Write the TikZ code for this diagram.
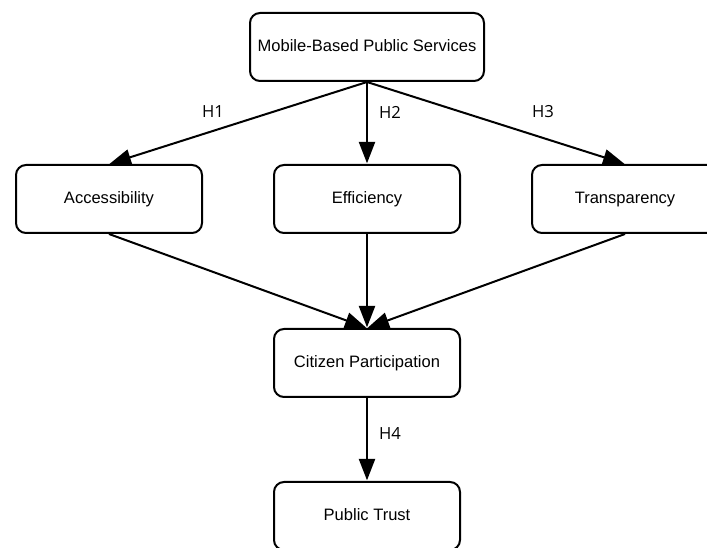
\documentclass[tikz,border=0pt]{standalone}
\usepackage{fontspec}
\setmainfont{Liberation Sans}
\newfontfamily\labelfont{Open Sans}
\usetikzlibrary{arrows.meta}
\tikzset{
  boxnode/.style={draw=black, line width=1.5pt, rounded corners=7.5pt, fill=white,
    minimum width=139.5pt, minimum height=51pt, align=center,
    text height=0.85em, text depth=0.1em,
    font=\fontsize{12.4}{14}\selectfont},
  hlabel/.style={inner sep=0.75pt, font=\labelfont\fontsize{12.5}{14}\selectfont},
  link/.style={line width=1.5pt, -{Triangle[length=16pt,width=12pt]}, shorten >=0.5pt}
}
\begin{document}
\begin{tikzpicture}[x=0.75pt,y=0.75pt,yscale=-1,xscale=1]
\useasboundingbox (0,0) rectangle (707,548);

% Boxes
\node [boxnode, minimum width=175.5pt] (mobile) at (367,47) {Mobile-Based Public Services};
\node [boxnode] (access) at (109,199) {Accessibility};
\node [boxnode] (effic) at (367,199) {Efficiency};
\node [boxnode] (transp) at (625,199) {Transparency};
\node [boxnode] (citizen) at (367,363) {Citizen Participation};
\node [boxnode] (trust) at (367,516) {Public Trust};

% Arrows
\draw [link] (mobile.south) -- (access.north);
\draw [link] (mobile.south) -- (effic.north);
\draw [link] (mobile.south) -- (transp.north);
\draw [link] (access.south) -- (citizen.north);
\draw [link] (effic.south) -- (citizen.north);
\draw [link] (transp.south) -- (citizen.north);
\draw [link] (citizen.south) -- (trust.north);

% Text Node
\node [hlabel] (h1) at (213,112) {H1};
% Text Node
\node [hlabel] (h2) at (390,112) {H2};
% Text Node
\node [hlabel] (h3) at (543,112) {H3};
% Text Node
\node [hlabel] (h4) at (390,434) {H4};

\end{tikzpicture}
\end{document}
